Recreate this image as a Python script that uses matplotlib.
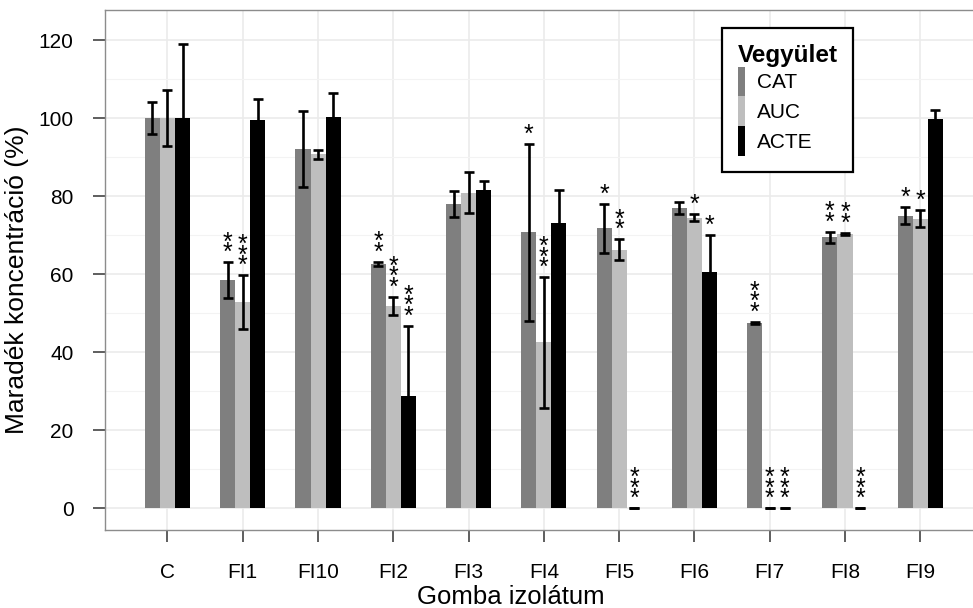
import numpy as np
import matplotlib.pyplot as plt
from matplotlib.patches import Patch
from matplotlib.ticker import MultipleLocator
import matplotlib.transforms as mtransforms

plt.rcParams['font.family'] = ['Liberation Sans', 'DejaVu Sans']

izolatum = ['C', 'FI1', 'FI10', 'FI2', 'FI3', 'FI4', 'FI5', 'FI6', 'FI7', 'FI8', 'FI9']
vegyulet = ['CAT', 'AUC', 'ACTE']

cat = [100, 58.4, 92.0, 62.7, 78.0, 70.7, 71.7, 77.0, 47.5, 69.4, 75.0]
cat_err = [4.2, 4.6, 9.7, 0.5, 3.4, 22.6, 6.3, 1.5, 0.3, 1.4, 2.2]
auc = [100, 52.8, 90.7, 51.9, 80.9, 42.5, 66.3, 74.5, 0, 70.3, 74.2]
auc_err = [7.1, 6.9, 1.2, 2.3, 5.3, 16.7, 2.6, 0.8, 0, 0.3, 2.2]
acte = [100, 99.4, 100.3, 28.7, 81.5, 73.1, 0, 60.6, 0, 0, 99.8]
acte_err = [19.1, 5.4, 6.2, 18.0, 2.4, 8.4, 0, 9.3, 0, 0, 2.2]

cat_sig = ['', '**', '', '**', '', '*', '*', '', '***', '**', '*']
auc_sig = ['', '***', '', '***', '', '***', '**', '*', '***', '**', '*']
acte_sig = ['', '', '', '***', '', '', '***', '*', '***', '***', '']

szinek = ['#7f7f7f', '#bebebe', '#000000']

fig = plt.figure(figsize=(9.73, 6.08), dpi=100)
ax = fig.add_axes([105/973, 78/608, 1 - 105/973, 520/608])

x = np.arange(len(izolatum))
w = 0.2
sorok = [(cat, cat_err, cat_sig), (auc, auc_err, auc_sig), (acte, acte_err, acte_sig)]

# csillagok: kicsit lejjebb tolva, hogy a csillag közepe a hibasáv fölé essen
star_tr = mtransforms.offset_copy(ax.transData, fig=fig, x=0, y=-2.0, units='points')

for i, (vals, errs, sigs) in enumerate(sorok):
    pos = x + (i - 1) * w
    ax.bar(pos, vals, width=w, color=szinek[i], zorder=2)
    ax.errorbar(pos, vals, yerr=errs, fmt='none', ecolor='black',
                elinewidth=1.9, capsize=3.6, capthick=1.9, zorder=3)
    for p, v, e, s in zip(pos, vals, errs, sigs):
        if s:
            ax.text(p, v + e, '\n'.join(s), ha='center', va='bottom',
                    fontsize=18, linespacing=0.29, transform=star_tr, zorder=4)

ax.set_xlim(-0.83, 10.7)
ax.set_ylim(-5.6, 127.7)
ax.set_xticks(x)
ax.set_xticklabels(izolatum)
ax.yaxis.set_major_locator(MultipleLocator(20))
ax.yaxis.set_minor_locator(MultipleLocator(10))

ax.grid(True, which='major', color='#ebebeb', linewidth=1.2, zorder=0)
ax.grid(True, which='minor', axis='y', color='#f3f3f3', linewidth=0.8, zorder=0)
ax.set_axisbelow(True)

for s in ['left', 'bottom', 'top']:
    ax.spines[s].set_color('#8c8c8c')
    ax.spines[s].set_linewidth(1.0)
ax.spines['right'].set_visible(False)

ax.tick_params(axis='both', which='major', length=8.6, width=1.1, color='#333333',
               labelsize=15, labelcolor='black')
ax.tick_params(axis='x', pad=15)
ax.tick_params(axis='y', pad=14)
ax.tick_params(which='minor', length=0)

ax.set_xlabel('Gomba izolátum', fontsize=18.5)
ax.set_ylabel('Maradék koncentráció (%)', fontsize=19)
ax.xaxis.set_label_coords(0.468, -0.105)
ax.yaxis.set_label_coords(-0.0876, 0.482)

handles = [Patch(facecolor=c, edgecolor='none') for c in szinek]
leg = ax.legend(handles, vegyulet, title='Vegyület', loc='upper left',
                bbox_to_anchor=(722/973, 1 - 28/608), bbox_transform=fig.transFigure,
                fontsize=15, title_fontproperties={'weight': 'bold', 'size': 17.5},
                handlelength=0.33, handleheight=1.82, handletextpad=0.6,
                labelspacing=0, borderpad=0.75, borderaxespad=0,
                fancybox=False, framealpha=1, edgecolor='black', alignment='left')
leg.get_frame().set_linewidth(1.6)

fig.savefig('out.png', dpi=100)
